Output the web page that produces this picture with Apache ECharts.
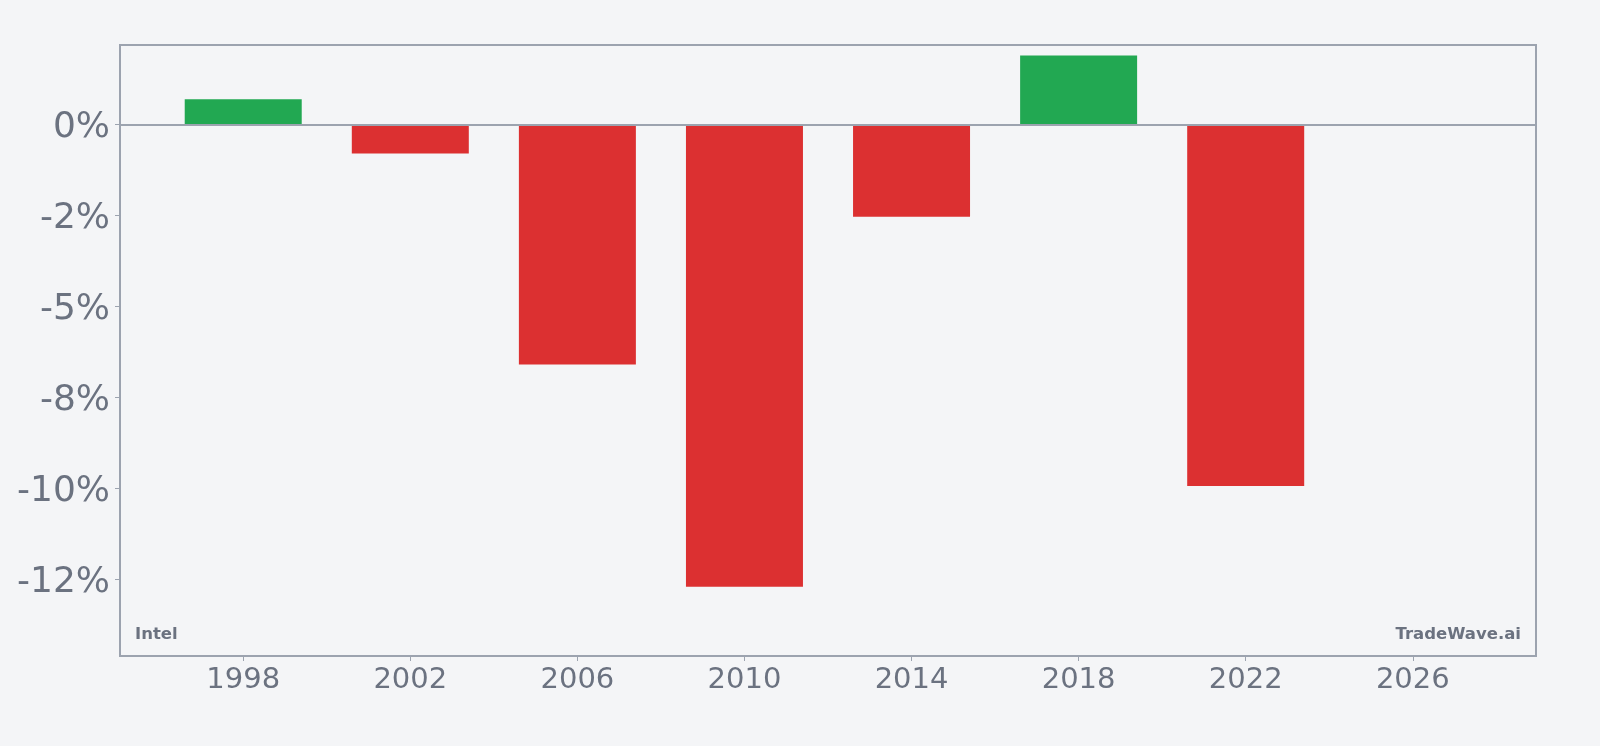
<!DOCTYPE html>
<html>
<head>
<meta charset="utf-8">
<title>Intel</title>
<script src="https://cdn.jsdelivr.net/npm/echarts@6/dist/echarts.min.js"></script>
<style>
  html, body { margin: 0; padding: 0; background: #f4f5f7; }
  #chart { width: 1600px; height: 746px; }
</style>
</head>
<body>
<div id="chart"></div>
<script>
// data
const years = [1998, 2002, 2006, 2010, 2014, 2018, 2022];
const changes = [0.69, -0.80, -6.60, -12.71, -2.54, 1.89, -9.94];
const xTicks = [1998, 2002, 2006, 2010, 2014, 2018, 2022, 2026];
const yTicks = [0, -2.5, -5, -7.5, -10, -12.5];
const yTickLabels = ["0%", "-2%", "-5%", "-8%", "-10%", "-12%"];

const textColor = "#6b7280";
const frameColor = "#9ca3af";

const chart = echarts.init(document.getElementById("chart"));

chart.setOption({
  backgroundColor: "#f4f5f7",
  animation: false,
  textStyle: { fontFamily: "DejaVu Sans" },
  grid: {
    left: 120,
    top: 45,
    right: 64,
    bottom: 90,
    show: true,
    borderColor: frameColor,
    borderWidth: 2,
    backgroundColor: "transparent",
  },
  xAxis: {
    type: "value",
    min: 1995.05,
    max: 2028.95,
    splitLine: { show: false },
    axisLine: { onZero: false, lineStyle: { color: frameColor, width: 2 } },
    axisTick: {
      show: true,
      length: 5,
      customValues: xTicks,
      lineStyle: { color: frameColor },
    },
    axisLabel: {
      customValues: xTicks,
      color: textColor,
      fontSize: 29,
      margin: 10,
      formatter: (v) => String(v),
    },
  },
  yAxis: {
    type: "value",
    min: -14.61,
    max: 2.18,
    splitLine: { show: false },
    axisLine: { show: true, lineStyle: { color: frameColor, width: 2 } },
    axisTick: {
      show: true,
      length: 5,
      customValues: yTicks,
      lineStyle: { color: frameColor },
    },
    axisLabel: {
      customValues: yTicks,
      color: textColor,
      fontSize: 36,
      margin: 10,
      verticalAlign: "top",
      lineHeight: 6,
      formatter: (v) => {
        const i = yTicks.findIndex((t) => Math.abs(t - v) < 1e-6);
        return i >= 0 ? yTickLabels[i] : "";
      },
    },
  },
  series: [
    {
      type: "bar",
      barWidth: 117,
      data: years.map((y, i) => [y, changes[i]]),
      itemStyle: {
        color: (p) => (p.value[1] >= 0 ? "#22a852" : "#dc3031"),
      },
      markLine: {
        silent: true,
        symbol: "none",
        label: { show: false },
        lineStyle: { color: frameColor, width: 2, type: "solid" },
        data: [{ yAxis: 0 }],
      },
    },
  ],
  graphic: [
    {
      type: "text",
      left: 135,
      top: 626,
      style: {
        text: "Intel",
        fill: textColor,
        font: "bold 16.5px 'DejaVu Sans'",
      },
    },
    {
      type: "text",
      right: 79,
      top: 626,
      style: {
        text: "TradeWave.ai",
        fill: textColor,
        font: "bold 16.5px 'DejaVu Sans'",
      },
    },
  ],
});
</script>
</body>
</html>
